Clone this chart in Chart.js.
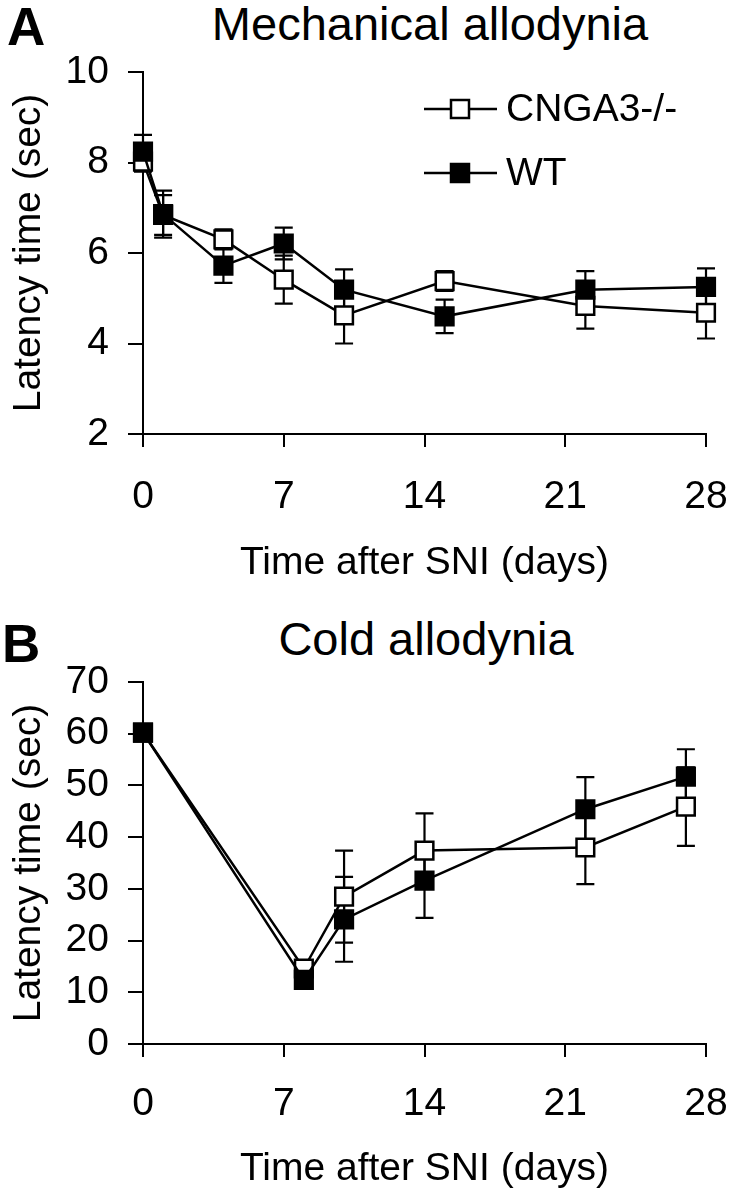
<!DOCTYPE html>
<html>
<head>
<meta charset="utf-8">
<script src="https://cdn.jsdelivr.net/npm/chart.js"></script>
<style>
  body { margin: 0; background: #fff; }
  #wrap { position: relative; width: 734px; height: 1199px; background: #fff; overflow: hidden;
          font-family: 'Liberation Sans', Arial, sans-serif; color: #000; }
  canvas { position: absolute; left: 0; }
  .lbl { position: absolute; line-height: 1; white-space: nowrap; }
  .panel { font-weight: bold; font-size: 53px; }
  .ttl { font-size: 47px; text-align: center; left: 0; }
</style>
</head>
<body>
<div id="wrap">
  <div class="lbl panel" style="left:7px; top:0px;">A</div>
  <div class="lbl ttl" style="top:0px; width:860px;">Mechanical allodynia</div>
  <canvas id="chartA" width="734" height="600" style="top:0;"></canvas>
  <div class="lbl panel" style="left:2px; top:617px;">B</div>
  <div class="lbl ttl" style="top:615px; width:852px;">Cold allodynia</div>
  <canvas id="chartB" width="734" height="599" style="top:600px;"></canvas>
</div>
<script>
// x ticks (days after SNI)
const xTicks = [0, 7, 14, 21, 28];
const seriesNames = ['CNGA3-/-', 'WT'];

// A: mechanical allodynia
const daysA = [0, 1, 4, 7, 10, 15, 22, 28];
const cngaA = [8.02, 6.84, 6.30, 5.41, 4.62, 5.38, 4.83, 4.68];
const cngaErrA = [0.22, 0.44, 0.22, 0.53, 0.62, 0.22, 0.50, 0.57];
const wtA = [8.24, 6.86, 5.72, 6.21, 5.19, 4.60, 5.19, 5.25];
const wtErrA = [0.37, 0.52, 0.38, 0.35, 0.45, 0.37, 0.41, 0.41];
const yTicksA = [2, 4, 6, 8, 10];

// B: cold allodynia
const daysB = [0, 8, 10, 14, 22, 27];
const cngaB = [60.2, 14.6, 28.5, 37.4, 38.0, 45.9];
const cngaErrB = [0.8, 1.5, 8.9, 7.2, 7.1, 7.6];
const wtB = [60.2, 12.4, 24.1, 31.6, 45.4, 51.7];
const wtErrB = [0.8, 1.5, 8.2, 7.2, 6.2, 5.3];
const yTicksB = [0, 10, 20, 30, 40, 50, 60, 70];

const FONT = "'Liberation Sans', Arial, sans-serif";
Chart.defaults.font.family = FONT;
Chart.defaults.color = '#000';

function pts(xs, ys) {
  return xs.map((x, i) => ({ x: x, y: ys[i] }));
}

// vertical error bars with caps, under the markers
const errorBars = {
  id: 'errorBars',
  beforeDatasetsDraw(chart) {
    const ctx = chart.ctx;
    const xs = chart.scales.x, ys = chart.scales.y;
    ctx.save();
    ctx.strokeStyle = '#000';
    ctx.lineWidth = 2.2;
    chart.data.datasets.forEach(ds => {
      ds.data.forEach((p, i) => {
        const e = ds.errors[i];
        if (!e) return;
        const px = xs.getPixelForValue(p.x);
        const hi = ys.getPixelForValue(p.y + e);
        const lo = ys.getPixelForValue(p.y - e);
        ctx.beginPath();
        ctx.moveTo(px, hi); ctx.lineTo(px, lo);
        ctx.moveTo(px - 9, hi); ctx.lineTo(px + 9, hi);
        ctx.moveTo(px - 9, lo); ctx.lineTo(px + 9, lo);
        ctx.stroke();
      });
    });
    ctx.restore();
  }
};

// legend drawn inside the plot area (line through marker)
const innerLegend = {
  id: 'innerLegend',
  afterDatasetsDraw(chart, args, opts) {
    if (!opts.show) return;
    const ctx = chart.ctx;
    ctx.save();
    const rows = [109, 173];
    chart.data.datasets.forEach((ds, i) => {
      const y = rows[i];
      ctx.strokeStyle = '#000';
      ctx.lineWidth = 2.5;
      ctx.beginPath();
      ctx.moveTo(424, y); ctx.lineTo(497, y);
      ctx.stroke();
      ctx.fillStyle = ds.pointBackgroundColor;
      ctx.fillRect(451, y - 9, 18, 18);
      ctx.strokeRect(451, y - 9, 18, 18);
      ctx.fillStyle = '#000';
      ctx.font = '39px ' + FONT;
      ctx.textBaseline = 'middle';
      ctx.textAlign = 'left';
      ctx.fillText(ds.label, 506, y + 1);
    });
    ctx.restore();
  }
};

function dataset(label, xs, ys, errs, filled, order) {
  return {
    label: label,
    data: pts(xs, ys),
    errors: errs,
    borderColor: '#000',
    borderWidth: 2.5,
    pointStyle: 'rect',
    pointRadius: 12.5,
    pointBorderWidth: 2.5,
    pointBorderColor: '#000',
    pointBackgroundColor: filled ? '#000' : '#fff',
    tension: 0,
    clip: false,
    order: order
  };
}

function makeChart(id, cfg) {
  return new Chart(document.getElementById(id), {
    type: 'line',
    data: {
      datasets: [
        dataset(seriesNames[0], cfg.days, cfg.cnga, cfg.cngaErr, false, 1),
        dataset(seriesNames[1], cfg.days, cfg.wt, cfg.wtErr, true, 0)
      ]
    },
    options: {
      responsive: false,
      animation: false,
      devicePixelRatio: 1,
      layout: { padding: { top: cfg.top, right: 28, left: 0, bottom: 0 } },
      plugins: {
        legend: { display: false },
        tooltip: { enabled: false },
        innerLegend: { show: cfg.legend }
      },
      scales: {
        x: {
          type: 'linear',
          min: 0, max: 28,
          afterBuildTicks: s => { s.ticks = xTicks.map(v => ({ value: v })); },
          afterFit: s => { s.height = cfg.xHeight; s.paddingLeft = 0; s.paddingRight = 0; },
          ticks: { font: { size: 39 }, padding: cfg.xPad, color: '#000' },
          grid: { drawOnChartArea: false, drawTicks: true, tickLength: 13, lineWidth: 2, color: '#000' },
          border: { display: true, color: '#000', width: 2 },
          title: { display: true, text: 'Time after SNI (days)', font: { size: 39 }, color: '#000',
                   padding: { top: 0, bottom: cfg.xTitlePad } }
        },
        y: {
          min: cfg.yTicks[0], max: cfg.yTicks[cfg.yTicks.length - 1],
          afterBuildTicks: s => { s.ticks = cfg.yTicks.map(v => ({ value: v })); },
          afterFit: s => { s.width = 143; s.paddingTop = 0; s.paddingBottom = 0; },
          ticks: { font: { size: 39 }, padding: 19, color: '#000' },
          grid: { drawOnChartArea: false, drawTicks: true, tickLength: 15, lineWidth: 2, color: '#000' },
          border: { display: true, color: '#000', width: 2 },
          title: { display: true, text: 'Latency time (sec)', font: { size: 39 }, color: '#000',
                   padding: { top: 6, bottom: 0 } }
        }
      }
    },
    plugins: [errorBars, innerLegend]
  });
}

makeChart('chartA', {
  days: daysA, cnga: cngaA, cngaErr: cngaErrA, wt: wtA, wtErr: wtErrA,
  yTicks: yTicksA, top: 72, xHeight: 166, xPad: 27, xTitlePad: 13, legend: true
});
makeChart('chartB', {
  days: daysB, cnga: cngaB, cngaErr: cngaErrB, wt: wtB, wtErr: wtErrB,
  yTicks: yTicksB, top: 82, xHeight: 155, xPad: 24, xTitlePad: 6, legend: false
});
</script>
</body>
</html>
